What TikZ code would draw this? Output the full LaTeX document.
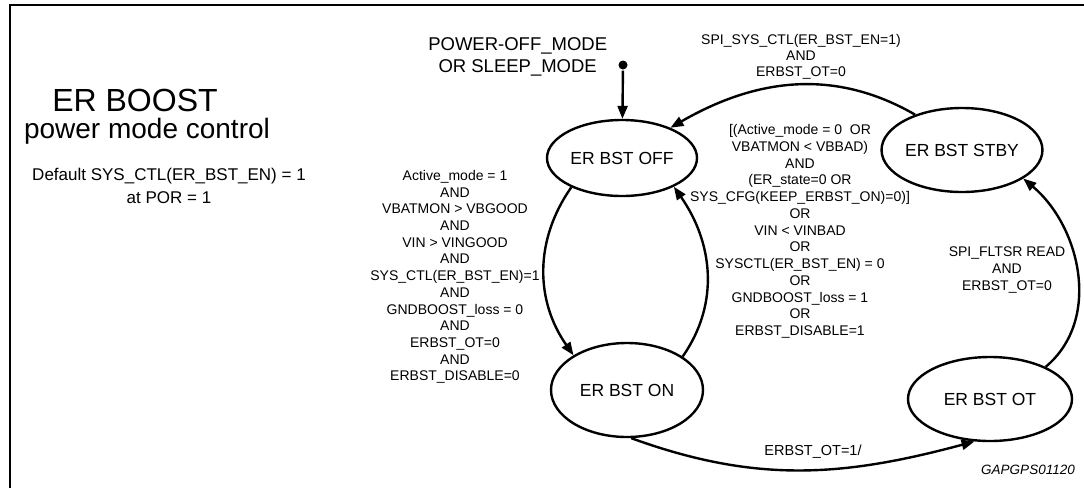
\documentclass[tikz,border=0pt]{standalone}
\usepackage{fontspec}
\setmainfont{Liberation Sans}
\usepackage{tikz}
\usetikzlibrary{shapes.geometric,arrows.meta}
\usetikzlibrary{positioning}
\tikzstyle{FSM_style}=[
	->,>={Triangle[length=13pt,width=10pt]},line width=2.4pt,x=1pt,y=-1pt,
	bst_state/.style={ellipse,draw,fill=white,inner sep=0pt,font=\fontsize{17.5}{20}\selectfont},
	dot/.style={circle,fill,inner sep=0pt,minimum size=9pt},
	cond/.style={align=center,inner sep=0pt,font=\fontsize{14}{16.7}\selectfont},
	title/.style={inner sep=0pt,font=\fontsize{28}{30}\selectfont},
	note/.style={align=center,inner sep=0pt,font=\fontsize{17}{22.5}\selectfont}
]

\begin{document}
\begin{tikzpicture}[FSM_style]
			\useasboundingbox (0,0) rectangle (1084,488);
			
			%frame
			\draw[-,line width=2pt] (10,488) -- (10,5) -- (1084,5);
			
			%title
			\node[title,font=\fontsize{32}{34}\selectfont] (t1) at (135,100) {ER BOOST};
			\node[title] (t2) at (147,131) {power mode control};
			\node[note] (def) at (169,186) {Default SYS\_CTL(ER\_BST\_EN) = 1\\at POR = 1};
			
			%states
			\node[bst_state,minimum width=150pt,minimum height=76pt] (off) at (622,158) {ER BST OFF};
			\node[bst_state,minimum width=156pt,minimum height=84pt] (stby) at (962,150) {ER BST STBY};
			\node[bst_state,minimum width=152pt,minimum height=94pt] (on) at (627,390) {ER BST ON};
			\node[bst_state,minimum width=164pt,minimum height=84pt] (ot) at (990,399) {ER BST OT};
			
			%initial
			\node[dot] (init) at (623,65) {};
			\node[cond,font=\fontsize{18.5}{22}\selectfont] (init_l) [left=9pt of init,yshift=8pt] {POWER-OFF\_MODE\\OR SLEEP\_MODE};
			
			%conditions
			\node[cond] (c_on) at (455,277) {Active\_mode = 1\\AND\\VBATMON > VBGOOD\\AND\\VIN > VINGOOD\\AND\\SYS\_CTL(ER\_BST\_EN)=1\\AND\\GNDBOOST\_loss = 0\\AND\\ERBST\_OT=0\\AND\\ERBST\_DISABLE=0};
			\node[cond,font=\fontsize{14}{16.75}\selectfont] (c_off) at (800,231.5) {[(Active\_mode = 0\ \ OR\\VBATMON < VBBAD)\\AND\\(ER\_state=0 OR\\SYS\_CFG(KEEP\_ERBST\_ON)=0)]\\OR\\VIN < VINBAD\\OR\\SYSCTL(ER\_BST\_EN) = 0\\OR\\GNDBOOST\_loss = 1\\OR\\ERBST\_DISABLE=1};
			\node[cond,font=\fontsize{14}{16}\selectfont] (c_stby) at (801,57) {SPI\_SYS\_CTL(ER\_BST\_EN=1)\\AND\\ERBST\_OT=0};
			\node[cond,font=\fontsize{14}{17}\selectfont] (c_flt) at (1007,270) {SPI\_FLTSR READ\\AND\\ERBST\_OT=0};
			\node[cond,font=\fontsize{14.5}{17}\selectfont] (c_ot) at (813,452) {ERBST\_OT=1/};
			\node[cond,font=\fontsize{13.5}{16}\selectfont\itshape] (ref) at (1028,470) {GAPGPS01120};
			
			\path[->] (init) edge (off)
			(off.210) edge [out=235,in=125] (on.147)
			(on.31) edge [out=55,in=-55] (off.331)
			(stby.143) edge [out=150,in=30] (off.32)
			(ot.30) edge [out=40,in=-40] (stby.-25)
			(on.275) edge [out=-20,in=195] (ot.250);
			
\end{tikzpicture}
\end{document}
